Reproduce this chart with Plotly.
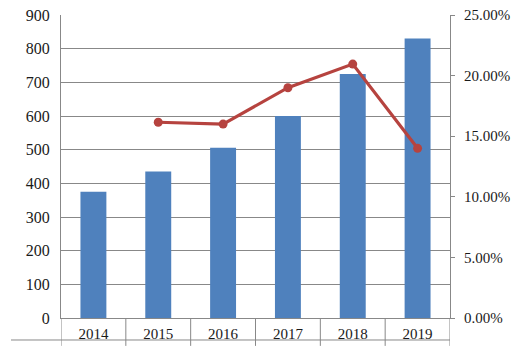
import plotly.graph_objects as go

years = ["2014", "2015", "2016", "2017", "2018", "2019"]
bar_values = [375, 435, 506, 600, 725, 830]
growth_years = ["2015", "2016", "2017", "2018", "2019"]
growth_rates = [0.1615, 0.160, 0.190, 0.2095, 0.140]
left_ticks = [0, 100, 200, 300, 400, 500, 600, 700, 800, 900]
right_ticks = [0, 0.05, 0.10, 0.15, 0.20, 0.25]

BAR = "#4F81BD"
LINE = "#B6433F"
GRID = "#888888"
FONT = "Liberation Serif, Times New Roman, serif"

fig = go.Figure()
fig.add_trace(go.Bar(x=years, y=bar_values, marker=dict(color=BAR, line=dict(width=0)),
                     width=0.4, yaxis="y", showlegend=False))
fig.add_trace(go.Scatter(x=growth_years, y=growth_rates, mode="lines+markers",
                         line=dict(color=LINE, width=3.2),
                         marker=dict(color=LINE, size=9),
                         yaxis="y2", showlegend=False))

shapes = []
n = len(years)
for i in range(n + 1):
    shapes.append(dict(type="line", xref="x", yref="paper", x0=i - 0.5, x1=i - 0.5,
                       y0=0, y1=-0.092, line=dict(color=GRID, width=1)))
shapes.append(dict(type="line", xref="paper", yref="paper", x0=-0.1285, x1=1.0,
                   y0=-0.0726, y1=-0.0726, line=dict(color=GRID, width=1)))

fig.update_layout(
    width=518, height=346,
    margin=dict(l=61, r=68, t=15, b=28),
    paper_bgcolor="white", plot_bgcolor="white",
    font=dict(family=FONT, color="#1a1a1a", size=15),
    bargap=0.6,
    shapes=shapes,
    xaxis=dict(type="category", categoryorder="array", categoryarray=years,
               showgrid=False, showline=True, linecolor=GRID, linewidth=1,
               ticks="", tickfont=dict(size=15, family=FONT), ticklabelstandoff=2,
               range=[-0.5, n - 0.5], mirror=False, automargin=False),
    yaxis=dict(range=[0, 900], tickvals=left_ticks, showgrid=True, gridcolor=GRID,
               gridwidth=1, showline=True, linecolor=GRID, linewidth=1,
               ticks="", tickfont=dict(size=16, family=FONT), zeroline=False,
               ticklabelstandoff=7, automargin=False),
    yaxis2=dict(range=[0, 0.25], tickvals=right_ticks, tickformat=".2%", overlaying="y",
                side="right", showgrid=False, showline=True, linecolor=GRID, linewidth=1,
                ticks="outside", ticklen=4, tickcolor=GRID,
                tickfont=dict(size=15, family=FONT), zeroline=False,
                ticklabelstandoff=6, automargin=False),
)

fig.write_html("out.html")
